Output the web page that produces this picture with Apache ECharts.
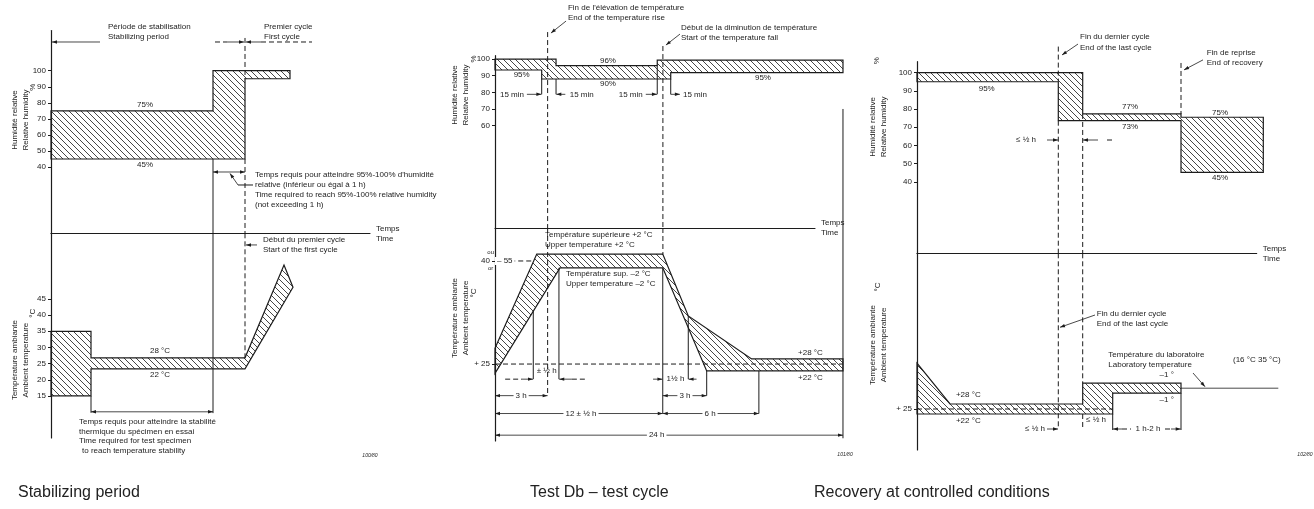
<!DOCTYPE html>
<html><head><meta charset="utf-8">
<script src="https://cdn.jsdelivr.net/npm/echarts@6.0.0/dist/echarts.min.js"></script>
<style>html,body{margin:0;padding:0;background:#fff}#c{width:1314px;height:509px}</style>
</head><body><div id="c"></div>
<script>
// ================= DATA =================
// Panel 1 – Stabilizing period (x: arbitrary time units, y: % RH / °C)
const p1HumTicks = [40, 50, 60, 70, 80, 90, 100];
const p1TempTicks = [15, 20, 25, 30, 35, 40, 45];
const p1HumBand = [[[0,75],[16.2,75],[16.2,100],[23.9,100],[23.9,95],[19.4,95],[19.4,45],[0,45]]];
const p1TempBand = [[[0,35],[4.0,35],[4.0,26.8],[19.4,26.8],[23.3,55.5],[24.2,48.6],[19.4,23.4],[4.0,23.4],[4.0,15],[0,15]]];
const p1HumSolid = [[[16.2,45],[16.2,-1.3]], [[20.2,28.8],[18.7,28.8]]];
const p1HumDashed = [[[19.4,120.4],[19.4,95]], [[19.4,45],[19.4,-1.3]], [[16.4,117.9],[17.6,117.9]], [[21.0,117.9],[26.1,117.9]]];
const p1HumArrows = [[[4.9,117.9],[0.1,117.9]], [[17.6,117.9],[19.3,117.9]], [[21.0,117.9],[19.5,117.9]], [[18.7,28.8],[17.9,36.0]]];
const p1HumDims = [[[16.2,36.9],[19.4,36.9]]];
const p1HumNotesLeft = [
  [5.7,127.2,'Période de stabilisation'],[5.7,121.0,'Stabilizing period'],
  [21.3,127.2,'Premier cycle'],[21.3,121.0,'First cycle'],
  [20.4,35.0,"Temps requis pour atteindre 95%-100% d'humidité"],[20.4,28.8,'relative (inférieur ou égal à 1 h)'],
  [20.4,22.6,'Time required to reach 95%-100% relative humidity'],[20.4,16.3,'(not exceeding 1 h)']];
const p1HumNotesMid = [[9.4,78.6,'75%'],[9.4,41.2,'45%']];
const p1TempSolid = [[[16.2,65.3],[16.2,9.7]], [[4.0,15],[4.0,9.8]]];
const p1TempDashed = [[[19.4,65.3],[19.4,26.8]]];
const p1TempArrows = [[[20.6,61.7],[19.5,61.7]]];
const p1TempDims = [[[4.0,10.1],[16.2,10.1]]];
const p1TempNotesLeft = [
  [21.2,63.2,'Début du premier cycle'],[21.2,60.1,'Start of the first cycle'],
  [2.8,7.0,'Temps requis pour atteindre la stabilité'],[2.8,3.9,'thermique du spécimen en essai'],
  [2.8,1.0,'Time required for test specimen'],[3.1,-1.9,'to reach temperature stability']];
const p1TempNotesMid = [[10.9,28.9,'28 °C'],[10.9,21.5,'22 °C']];
const p1HumTitle = [[-3.1,69.3,'Humidité relative\nRelative humidity'],[-1.8,89.8,'%']];
const p1TempTitle = [[-3.1,26.1,'Température ambiante\nAmbient temperature'],[-1.8,40.6,'°C']];
const p1Fig = [[31.9,-3.6,'100/80']];

// Panel 2 – Test Db, test cycle (x: hours)
const p2HumTicks = [60, 70, 80, 90, 100];
const p2TempTicks = [25, 55];
const p2HumBand = [[[0,100],[4.21,100],[4.21,96],[11.19,96],[11.19,99.4],[24,99.4],[24,91.8],[12.12,91.8],[12.12,88],[3.22,88],[3.22,93.4],[0,93.4]]];
const p2HumSolid = [[[3.22,88],[3.22,78.8]], [[4.21,88],[4.21,78.8]], [[11.19,96],[11.19,78.8]], [[12.12,88],[12.12,78.8]], [[24,70],[24,-1.5]]];
const p2HumDashed = [[[3.63,116.2],[3.63,-1.5]], [[11.58,107.8],[11.58,-1.5]]];
const p2HumArrows = [[[2.2,78.8],[3.2,78.8]], [[4.85,78.8],[4.23,78.8]], [[10.4,78.8],[11.17,78.8]], [[12.12,78.8],[12.75,78.8]],
  [[4.9,122.8],[3.86,115.6]], [[12.76,115.0],[11.79,108.4]]];
const p2HumNotesLeft = [
  [5.03,130.6,"Fin de l'élévation de température"],[5.03,124.6,'End of the temperature rise'],
  [12.83,118.6,'Début de la diminution de température'],[12.83,112.6,'Start of the temperature fall']];
const p2HumNotesMid = [[1.84,90.4,'95%'],[7.79,99.0,'96%'],[7.79,85.4,'90%'],[18.48,88.6,'95%'],
  [1.17,78.8,'15 min'],[5.98,78.8,'15 min'],[9.36,78.8,'15 min'],[13.79,78.8,'15 min']];
const p2TempBand = [[[0,29.6],[2.88,57],[11.57,57],[13.33,39],[17.7,26.5],[24,26.5],[24,23],[14.6,23],[11.57,53],[4.48,53],[0,22.3]]];
const p2TempSolid = [[[2.64,40.4],[2.64,20.6]], [[4.41,53],[4.41,20.6]], [[11.57,53],[11.57,10.6]], [[13.33,39],[13.33,20.6]],
  [[14.6,23],[14.6,15.8]], [[18.2,23],[18.2,10.6]], [[24,64.6],[24,3.4]]];
const p2TempDashed = [[[1.05,55],[2.6,55]], [[0,25],[24,25]], [[3.63,64.6],[3.63,15.8]], [[11.58,64.6],[11.58,57]],
  [[0.7,20.6],[1.9,20.6]], [[5.3,20.6],[6.2,20.6]]];
const p2TempArrows = [[[1.9,20.6],[2.62,20.6]], [[5.3,20.6],[4.43,20.6]], [[10.9,20.6],[11.55,20.6]], [[13.9,20.6],[13.35,20.6]]];
const p2TempDims = [[[0,15.8],[3.63,15.8]], [[11.57,15.8],[14.6,15.8]], [[0,10.6],[11.57,10.6]], [[11.57,10.6],[18.2,10.6]], [[0,4.3],[24,4.3]]];
const p2TempDimLabels = [[1.8,15.8,'3 h'],[13.1,15.8,'3 h'],[5.93,10.6,'12 ± ½ h'],[14.83,10.6,'6 h'],[11.15,4.3,'24 h'],[12.45,20.6,'1½ h']];
const p2TempAxisNote = [[0.0,55,'– 55']];
const p2TempNotesLeft = [
  [3.45,62.6,'Température supérieure +2 °C'],[3.45,59.7,'Upper temperature +2 °C'],
  [4.9,51.2,'Température sup. –2 °C'],[4.9,48.5,'Upper temperature –2 °C'],
  [20.9,28.3,'+28 °C'],[20.9,21.1,'+22 °C']];
const p2TempNotesMid = [[3.56,23.0,'± ½ h']];
const p2TempSmall = [[-0.3,57.4,'ou'],[-0.3,52.9,'or']];
const p2HumTitle = [[-2.41,78.4,'Humidité relative\nRelative humidity'],[-1.45,100,'%']];
const p2TempTitle = [[-2.41,38.4,'Température ambiante\nAmbient temperature'],[-1.45,45.7,'°C']];
const p2Fig = [[24.14,-1.5,'101/80']];

// Panel 3 – Recovery at controlled conditions (x: arbitrary time units)
const p3HumTicks = [40, 50, 60, 70, 80, 90, 100];
const p3TempTicks = [25];
const p3HumBand = [[[0,100],[16.57,100],[16.57,77.3],[26.4,77.3],[26.4,75.5],[34.63,75.5],[34.63,45.2],[26.4,45.2],[26.4,73.6],[14.13,73.6],[14.13,95],[0,95]]];
const p3HumDashed = [[[14.13,114.3],[14.13,95]], [[14.13,73.6],[14.13,0.8]], [[16.57,77.3],[16.57,0.8]], [[26.4,105.3],[26.4,77.3]], [[19.0,63],[19.8,63]]];
const p3HumArrows = [[[13.0,63],[14.1,63]], [[18.1,63],[16.6,63]], [[16.1,115.7],[14.5,109.7]], [[28.6,107.0],[26.7,101.5]]];
const p3HumNotesLeft = [[16.3,119.4,'Fin du dernier cycle'],[16.3,113.4,'End of the last cycle'],
  [28.97,111.0,'Fin de reprise'],[28.97,105.5,'End of recovery']];
const p3HumNotesMid = [[6.97,90.9,'95%'],[21.3,81.0,'77%'],[21.3,70.0,'73%'],[30.3,78.0,'75%'],[30.3,42.3,'45%'],[10.9,63,'≤ ½ h']];
const p3TempBand = [[[0,47.9],[3.3,27.5],[16.57,27.5],[16.57,37.9],[26.4,37.9],[26.4,32.9],[19.57,32.9],[19.57,22.5],[0,22.5]]];
const p3TempSolid = [[[19.57,22.5],[19.57,14.5]], [[26.4,32.9],[26.4,14.5]]];
const p3LabLine = [[[26.4,35.4],[36.13,35.4]]];
const p3TempDashed = [[[0,25],[19.57,25]], [[14.13,102.85],[14.13,16.15]], [[16.57,102.85],[16.57,37.9]], [[16.57,22.5],[16.57,15.5]],
  [[20.5,15],[21.4,15]], [[24.8,15],[25.4,15]]];
const p3TempArrows = [[[13.0,15],[14.1,15]], [[20.5,15],[19.6,15]], [[25.4,15],[26.37,15]], [[17.8,72],[14.3,65.85]], [[27.6,43],[28.8,36.15]]];
const p3TempNotesLeft = [[17.97,72.85,'Fin du dernier cycle'],[17.97,67.85,'End of the last cycle'],
  [19.13,52,'Température du laboratoire'],[19.13,47,'Laboratory temperature'],[31.6,49.5,'(16 °C 35 °C)']];
const p3TempNotesMid = [[5.13,32,'+28 °C'],[5.13,19,'+22 °C'],[24.97,42,'–1 °'],[24.97,29.5,'–1 °'],
  [11.8,15,'≤ ½ h'],[17.9,19.5,'≤ ½ h'],[23.1,15,'1 h-2 h']];
const p3HumTitle = [[-3.9,70.2,'Humidité relative\nRelative humidity'],[-4.0,106.5,'%']];
const p3TempTitle = [[-3.9,57,'Température ambiante\nAmbient temperature'],[-3.9,86,'°C']];
const p3Fig = [[38.8,2,'102/80']];

const captions = ['Stabilizing period', 'Test Db – test cycle', 'Recovery at controlled conditions'];

// ================= RENDERING =================
const FONT = '"Liberation Sans", Arial, sans-serif';
const INK = '#1c1c1c';
function makeHatch() {
  const s = 6, c = document.createElement('canvas');
  c.width = s; c.height = s;
  const g = c.getContext('2d');
  g.strokeStyle = '#262626'; g.lineWidth = 0.85;
  g.beginPath();
  g.moveTo(-1, -1); g.lineTo(s + 1, s + 1);
  g.moveTo(-1, s - 1); g.lineTo(1, s + 1);
  g.moveTo(s - 1, -1); g.lineTo(s + 1, 1);
  g.stroke();
  return c;
}
const hatch = makeHatch();

function base(g, arr, z) {
  return { type: 'custom', coordinateSystem: 'cartesian2d', xAxisIndex: g, yAxisIndex: g,
    data: arr.map((_, i) => [i]), silent: true, animation: false, clip: false, z: z };
}
function polys(g, arr) {
  return Object.assign(base(g, arr, 2), { renderItem: (p, api) => ({ type: 'polygon',
    shape: { points: arr[p.dataIndex].map(q => api.coord(q)) },
    style: { fill: { image: hatch, repeat: 'repeat' }, stroke: INK, lineWidth: 1.2 } }) });
}
function paths(g, arr, dash, w) {
  return Object.assign(base(g, arr, 4), { renderItem: (p, api) => ({ type: 'polyline',
    shape: { points: arr[p.dataIndex].map(q => api.coord(q)) },
    style: { fill: null, stroke: INK, lineWidth: w || 1, lineDash: dash ? [5, 3] : null } }) });
}
function head(a, b) {
  const dx = b[0] - a[0], dy = b[1] - a[1], L = Math.hypot(dx, dy) || 1, ux = dx / L, uy = dy / L, len = 5, w = 1.7;
  return { type: 'polygon', shape: { points: [[b[0], b[1]],
    [b[0] - ux * len - uy * w, b[1] - uy * len + ux * w], [b[0] - ux * len + uy * w, b[1] - uy * len - ux * w]] },
    style: { fill: INK, stroke: null } };
}
function arrows(g, arr, both) {
  return Object.assign(base(g, arr, 5), { renderItem: (p, api) => {
    const pts = arr[p.dataIndex].map(q => api.coord(q));
    const ch = [{ type: 'polyline', shape: { points: pts }, style: { fill: null, stroke: INK, lineWidth: 0.8 } }, head(pts[0], pts[1])];
    if (both) ch.push(head(pts[1], pts[0]));
    return { type: 'group', children: ch };
  } });
}
function notes(g, arr, align, extra) {
  return Object.assign(base(g, arr, 6), { renderItem: (p, api) => {
    const n = arr[p.dataIndex], pt = api.coord([n[0], n[1]]);
    return { type: 'text', x: pt[0], y: pt[1], style: Object.assign({ text: n[2], fontSize: 8, fontFamily: FONT,
      fill: INK, align: align, verticalAlign: 'middle' }, extra || {}) };
  } });
}
function vnotes(g, arr) {
  return Object.assign(base(g, arr, 6), { renderItem: (p, api) => {
    const n = arr[p.dataIndex], pt = api.coord([n[0], n[1]]);
    return { type: 'text', x: pt[0], y: pt[1], rotation: Math.PI / 2, style: { text: n[2], fontSize: 8, lineHeight: 11,
      fontFamily: FONT, fill: INK, align: 'center', verticalAlign: 'middle' } };
  } });
}
function xAx(g, max, named) {
  return { gridIndex: g, type: 'value', min: 0, max: max,
    axisLine: { show: named, onZero: false, lineStyle: { color: INK, width: 1.1 } },
    axisTick: { show: false }, axisLabel: { show: false }, splitLine: { show: false },
    name: named ? 'Temps\nTime' : '', nameLocation: 'end', nameGap: 6,
    nameTextStyle: { fontSize: 8, fontFamily: FONT, color: INK, align: 'left', lineHeight: 10 } };
}
function yAx(g, min, max, ticks, fmt, margin) {
  return { gridIndex: g, type: 'value', min: min, max: max,
    axisLine: { show: true, onZero: false, lineStyle: { color: INK, width: 1.2 } },
    axisTick: { show: true, customValues: ticks, length: 3, lineStyle: { color: INK } },
    axisLabel: { show: true, customValues: ticks, fontSize: 8, fontFamily: FONT, color: INK, margin: margin || 5,
      formatter: fmt || (v => String(v)) },
    splitLine: { show: false } };
}
const small = { fontSize: 5, fontStyle: 'italic' };
const dimBg = { backgroundColor: '#fff', padding: [0, 2] };

const option = {
  backgroundColor: '#fff',
  animation: false,
  title: captions.map((t, i) => ({ text: t, left: [13, 525, 809][i], top: 480,
    textStyle: { fontSize: 16, fontWeight: 'normal', fontFamily: FONT, color: '#222' } })),
  grid: [
    { left: 51, top: 30.6, width: 319, height: 202.7 },
    { left: 51, top: 233.3, width: 319, height: 204.7 },
    { left: 495, top: 55.7, width: 320, height: 172.3 },
    { left: 495, top: 228, width: 320, height: 213 },
    { left: 917, top: 61.7, width: 339.7, height: 191.6 },
    { left: 917, top: 253.3, width: 339.7, height: 196.7 }
  ],
  xAxis: [xAx(0, 31.9, true), xAx(1, 31.9, false), xAx(2, 22.07, true), xAx(3, 22.07, false), xAx(4, 33.97, true), xAx(5, 33.97, false)],
  yAxis: [
    yAx(0, -1.3, 125, p1HumTicks), yAx(1, 2.0, 65.3, p1TempTicks),
    yAx(2, -1.5, 102, p2HumTicks), yAx(3, 2.6, 64.6, p2TempTicks, v => v === 55 ? '40' : '+ 25', 5),
    yAx(4, 0.8, 106, p3HumTicks), yAx(5, 4.5, 102.85, p3TempTicks, v => '+ ' + v)
  ],
  series: [
    polys(0, p1HumBand), polys(1, p1TempBand),
    paths(0, p1HumSolid, false), paths(0, p1HumDashed, true), paths(1, p1TempSolid, false), paths(1, p1TempDashed, true),
    arrows(0, p1HumArrows, false), arrows(0, p1HumDims, true), arrows(1, p1TempArrows, false), arrows(1, p1TempDims, true),
    notes(0, p1HumNotesLeft, 'left'), notes(0, p1HumNotesMid, 'center'), notes(1, p1TempNotesLeft, 'left'), notes(1, p1TempNotesMid, 'center'),
    vnotes(0, p1HumTitle), vnotes(1, p1TempTitle), notes(1, p1Fig, 'center', small),

    polys(2, p2HumBand), polys(3, p2TempBand),
    paths(2, p2HumSolid, false), paths(2, p2HumDashed, true), paths(3, p2TempSolid, false), paths(3, p2TempDashed, true),
    arrows(2, p2HumArrows, false), arrows(3, p2TempArrows, false), arrows(3, p2TempDims, true),
    notes(2, p2HumNotesLeft, 'left'), notes(2, p2HumNotesMid, 'center'), notes(3, p2TempNotesLeft, 'left'),
    notes(3, p2TempNotesMid, 'center'), notes(3, p2TempDimLabels, 'center', dimBg), notes(3, p2TempAxisNote, 'left', dimBg),
    notes(3, p2TempSmall, 'center', { fontSize: 6 }),
    vnotes(2, p2HumTitle), vnotes(3, p2TempTitle), notes(3, p2Fig, 'center', small),

    polys(4, p3HumBand), polys(5, p3TempBand),
    paths(4, p3HumDashed, true), paths(5, p3TempSolid, false), paths(5, p3LabLine, false, 0.8), paths(5, p3TempDashed, true),
    arrows(4, p3HumArrows, false), arrows(5, p3TempArrows, false),
    notes(4, p3HumNotesLeft, 'left'), notes(4, p3HumNotesMid, 'center'), notes(5, p3TempNotesLeft, 'left'), notes(5, p3TempNotesMid, 'center'),
    vnotes(4, p3HumTitle), vnotes(5, p3TempTitle), notes(5, p3Fig, 'center', small)
  ]
};
const chart = echarts.init(document.getElementById('c'));
chart.setOption(option);
</script></body></html>
